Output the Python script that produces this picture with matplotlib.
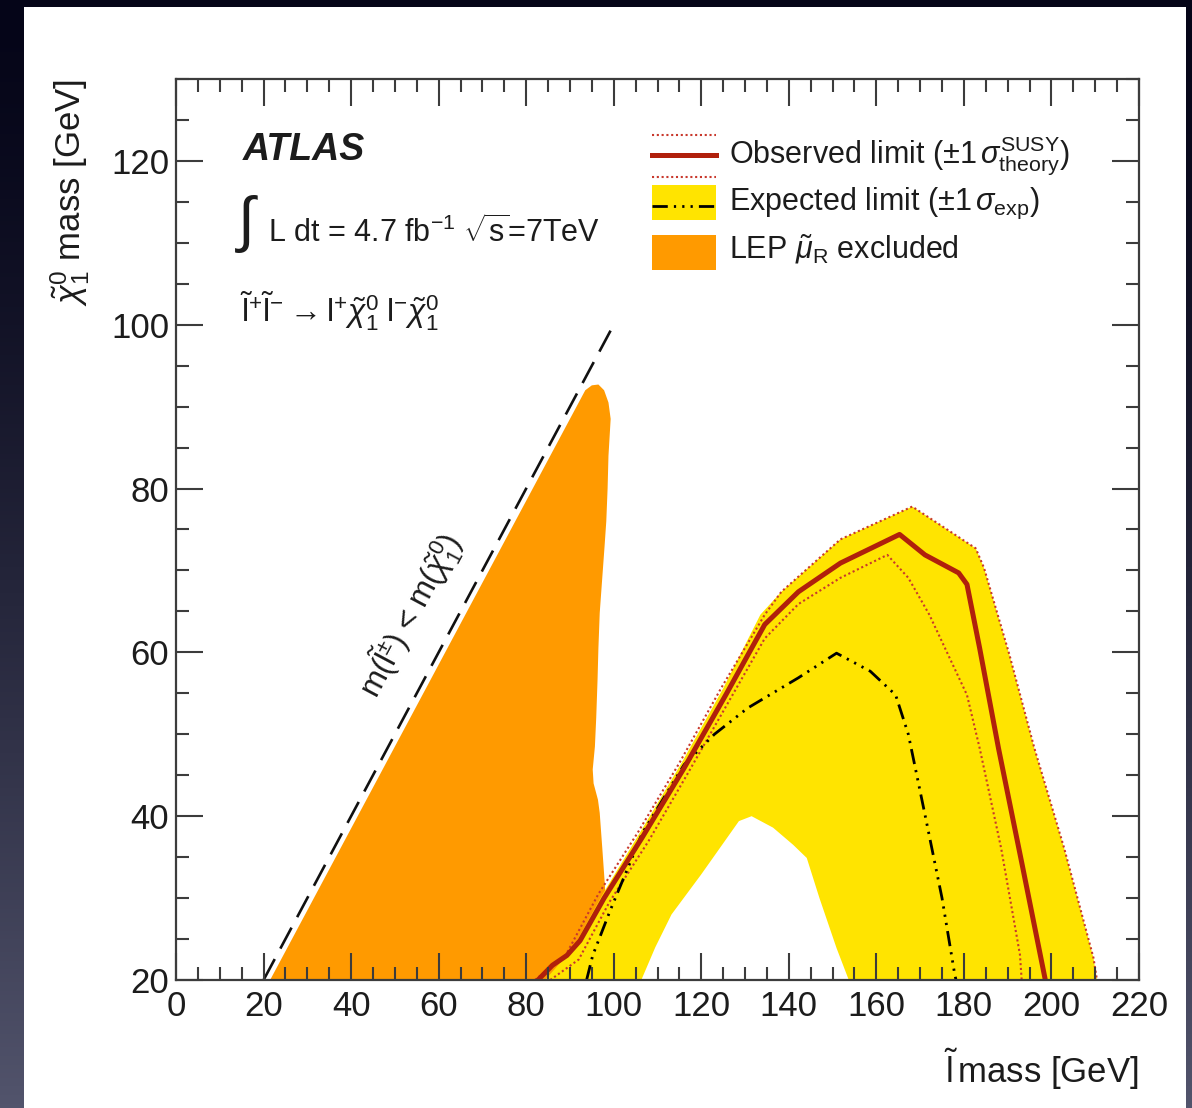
import numpy as np
import matplotlib
matplotlib.use("Agg")
import matplotlib.pyplot as plt
from matplotlib.patches import Rectangle
from matplotlib.ticker import MultipleLocator

plt.rcParams['font.family'] = ['Liberation Sans', 'DejaVu Sans']
plt.rcParams['mathtext.fontset'] = 'custom'
plt.rcParams['mathtext.rm'] = 'Liberation Sans'
plt.rcParams['mathtext.it'] = 'Liberation Sans:italic'
plt.rcParams['mathtext.bf'] = 'Liberation Sans:bold'
plt.rcParams['mathtext.sf'] = 'Liberation Sans'

# ---------------- data (GeV) ----------------
# kinematic boundary m(slepton) = m(neutralino)
kin_x = [20, 100]
kin_y = [20, 100]

# LEP right-handed smuon exclusion
lep_x = [21.5, 93.5, 95.0, 96.5, 97.8, 98.8, 99.3, 98.8, 98.6, 98.3, 97.9, 97.3, 96.8,
         96.5, 96.3, 96.0, 95.7, 95.2, 95.4, 96.4, 96.8, 97.4, 97.9, 98.3, 98.8, 99.2]
lep_y = [20.0, 92.0, 92.6, 92.7, 92.0, 90.5, 88.5, 84.0, 80.0, 76.0, 72.9, 68.5, 64.8,
         60.5, 56.6, 52.0, 48.5, 45.7, 44.0, 42.0, 40.4, 36.0, 32.2, 29.0, 24.0, 20.0]

# expected limit +-1 sigma band: outer edge
band_up_x = [84.3, 90.6, 97.5, 106.0, 115.5, 125.0, 133.5, 138.3, 151.8, 168.2, 182.7,
             184.6, 190.4, 196.1, 202.9, 209.6, 210.4]
band_up_y = [20.0, 23.8, 30.5, 38.0, 46.5, 55.6, 64.6, 67.4, 73.8, 77.8, 72.7,
             70.3, 59.7, 48.3, 36.1, 22.7, 20.0]
# expected limit +-1 sigma band: inner edge
band_lo_x = [106.3, 109.5, 113.2, 120.0, 128.6, 131.5, 136.4, 141.0, 144.1, 147.0, 150.9, 153.7]
band_lo_y = [20.0, 24.0, 28.0, 32.9, 39.4, 40.0, 38.6, 36.5, 34.9, 30.0, 23.9, 20.0]

# observed limit and its theory variations
obs_x = [82.7, 86.0, 89.3, 92.3, 97.8, 106.5, 116.1, 125.7, 134.5, 142.2, 151.8, 165.3,
         171.1, 178.8, 180.7, 183.6, 187.9, 193.3, 198.6]
obs_y = [20.0, 21.8, 23.0, 24.8, 30.0, 37.4, 45.9, 54.9, 63.4, 67.4, 70.9, 74.4,
         71.9, 69.7, 68.3, 60.5, 48.3, 34.1, 20.0]
obs_up_x = [82.0, 89.0, 96.5, 105.5, 115.0, 124.5, 134.5, 138.3, 151.8, 168.2, 182.7,
            184.6, 190.4, 196.1, 202.9, 209.6, 210.4]
obs_up_y = [20.0, 23.0, 30.5, 38.0, 46.5, 55.6, 64.6, 67.4, 73.8, 77.8, 72.7,
            70.3, 59.7, 48.3, 36.1, 22.7, 20.0]
obs_dn_x = [85.5, 92.0, 99.0, 108.0, 117.0, 126.5, 134.5, 142.2, 151.8, 162.5, 167.3,
            172.1, 180.7, 183.6, 188.5, 192.8, 193.2]
obs_dn_y = [20.0, 22.5, 29.5, 37.0, 45.3, 54.2, 61.7, 65.9, 69.1, 71.9, 69.1,
            64.6, 54.8, 48.3, 36.1, 23.1, 20.0]

# expected limit
exp_x = [93.8, 95.2, 99.2, 106.5, 116.1, 123.0, 130.6, 142.2, 150.9, 158.6, 164.4,
         167.3, 171.1, 175.0, 177.9, 178.2]
exp_y = [20.0, 23.0, 28.5, 37.9, 46.3, 50.0, 53.2, 56.9, 59.9, 57.7, 54.8,
         50.0, 40.2, 30.0, 20.7, 20.0]

x_ticks = list(range(0, 221, 20))
y_ticks = list(range(20, 121, 20))

# ---------------- styling ----------------
C_ORANGE = '#FF9A00'
C_YELLOW = '#FFE400'
C_OBS = '#B0200C'
C_THEO = '#C8382C'
C_TEXT = '#1c1c1c'
C_AXIS = '#3c3c3c'
DOT = (0, (1.0, 1.3))
DASHDOT3 = (0, (5.5, 2.2, 0.8, 2.2, 0.8, 2.2, 0.8, 2.2))

W, H = 1192, 1108
fig = plt.figure(figsize=(W / 100, H / 100), dpi=100)

# dark backdrop with a white sheet on top
bg = fig.add_axes([0, 0, 1, 1], zorder=-10)
t = (np.linspace(0, 1, 256) ** 1.4)[:, None, None]
c_top = np.array([5, 5, 24]) / 255
c_bot = np.array([82, 84, 108]) / 255
grad = c_top + (c_bot - c_top) * t
bg.imshow(grad, aspect='auto', extent=[0, 1, 0, 1], origin='upper')
bg.add_patch(Rectangle((24 / W, 0), (1186 - 24) / W, 1 - 7 / H,
                       facecolor='white', edgecolor='none'))
bg.set_xlim(0, 1)
bg.set_ylim(0, 1)
bg.set_axis_off()

ax = fig.add_axes([176 / W, 1 - 980 / H, (1139 - 176) / W, (980 - 79) / H])
ax.set_xlim(0, 220)
ax.set_ylim(20, 130)

ax.fill(lep_x, lep_y, color=C_ORANGE, lw=0, zorder=1)
ax.fill(band_up_x + band_lo_x[::-1], band_up_y + band_lo_y[::-1],
        color=C_YELLOW, lw=0, zorder=2)
ax.plot(obs_up_x, obs_up_y, color=C_THEO, lw=1.5, ls=DOT, zorder=3)
ax.plot(obs_dn_x, obs_dn_y, color=C_THEO, lw=1.5, ls=DOT, zorder=3)
ax.plot(exp_x, exp_y, color='black', lw=2.0, ls=DASHDOT3, zorder=4)
ax.plot(obs_x, obs_y, color=C_OBS, lw=3.6, zorder=5, solid_joinstyle='round')
ax.plot(kin_x, kin_y, color='#111111', lw=1.9, ls=(0, (9, 4.5)), zorder=4)

ax.text(53.5, 64.5, r'm($\tilde{\mathrm{l}}^{\pm}$) < m($\tilde{\chi}^{0}_{1}$)',
        rotation=45, transform_rotates_text=True, rotation_mode='anchor',
        ha='center', va='center', fontsize=22.5, color=C_TEXT)

# axes frame and ticks
ax.xaxis.set_major_locator(MultipleLocator(20))
ax.xaxis.set_minor_locator(MultipleLocator(5))
ax.yaxis.set_major_locator(MultipleLocator(20))
ax.yaxis.set_minor_locator(MultipleLocator(5))
ax.set_xticks(x_ticks)
ax.set_yticks(y_ticks)
ax.tick_params(which='both', direction='in', top=True, right=True,
               color=C_AXIS, labelcolor=C_TEXT, labelsize=25, width=1.5)
ax.tick_params(which='major', length=19.5)
ax.tick_params(which='minor', length=9.5)
ax.tick_params(axis='x', pad=7)
ax.tick_params(axis='y', pad=5)
for s in ax.spines.values():
    s.set_color(C_AXIS)
    s.set_linewidth(1.6)
    s.set_zorder(10)
ax.xaxis.set_zorder(10)
ax.yaxis.set_zorder(10)

ax.text(1.0, -0.114, r'$\tilde{\mathrm{l}}\,$mass [GeV]', transform=ax.transAxes,
        ha='right', va='baseline', fontsize=25, color=C_TEXT)
ax.text(-0.087, 1.0, r'$\tilde{\chi}^{0}_{1}$ mass [GeV]', transform=ax.transAxes,
        rotation=90, ha='right', va='top', fontsize=25, color=C_TEXT)

# labels in the upper left
ax.text(0.0696, 0.910, 'ATLAS', transform=ax.transAxes, fontsize=27,
        fontweight='bold', fontstyle='italic', va='baseline', color=C_TEXT)
ax.text(0.0727, 0.839, '\u222b', transform=ax.transAxes, fontsize=44,
        ha='center', va='center', color=C_TEXT)
ax.text(0.0955, 0.819, r'L dt = 4.7 fb$^{-1}$ $\sqrt{\mathrm{s}}$=7TeV',
        transform=ax.transAxes, fontsize=22, va='baseline', color=C_TEXT)
ax.text(0.0665, 0.730,
        r'$\tilde{\mathrm{l}}^{+}\tilde{\mathrm{l}}^{-}\rightarrow\mathrm{l}^{+}'
        r'\tilde{\chi}^{0}_{1}\;\mathrm{l}^{-}\tilde{\chi}^{0}_{1}$',
        transform=ax.transAxes, fontsize=23, va='baseline', color=C_TEXT)

# legend
lx0, lx1 = 0.494, 0.561
kw = dict(transform=ax.transAxes, clip_on=False)
ax.plot([lx0, lx1], [0.938, 0.938], color=C_THEO, lw=1.5, ls=DOT, **kw)
ax.plot([lx0, lx1], [0.916, 0.916], color=C_OBS, lw=3.6, **kw)
ax.plot([lx0, lx1], [0.891, 0.891], color=C_THEO, lw=1.5, ls=DOT, **kw)
ax.add_patch(Rectangle((lx0, 0.844), lx1 - lx0, 0.038, facecolor=C_YELLOW,
                       edgecolor='none', **kw))
ax.plot([lx0, lx1], [0.859, 0.859], color='black', lw=2.0, ls=DASHDOT3, **kw)
ax.add_patch(Rectangle((lx0, 0.788), lx1 - lx0, 0.039, facecolor=C_ORANGE,
                       edgecolor='none', **kw))
tx = 0.574
ax.text(tx, 0.907, r'Observed limit ($\pm$1$\,\sigma^{\mathrm{SUSY}}_{\mathrm{theory}}$)',
        transform=ax.transAxes, fontsize=22, va='baseline', color=C_TEXT)
ax.text(tx, 0.855, r'Expected limit ($\pm$1$\,\sigma_{\mathrm{exp}}$)',
        transform=ax.transAxes, fontsize=22, va='baseline', color=C_TEXT)
ax.text(tx, 0.801, r'LEP $\tilde{\mu}_{\mathrm{R}}$ excluded',
        transform=ax.transAxes, fontsize=22, va='baseline', color=C_TEXT)

fig.savefig('out.png', dpi=100)
